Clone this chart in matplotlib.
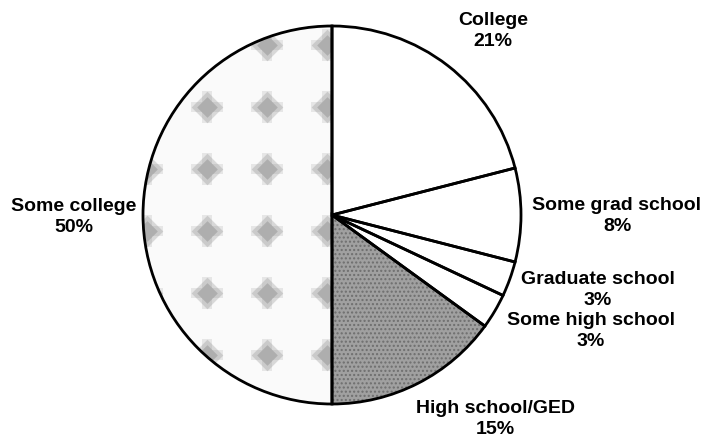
import numpy as np
import matplotlib.pyplot as plt

plt.rcParams['font.family'] = ['Liberation Sans', 'DejaVu Sans']

labels = ['College', 'Some grad school', 'Graduate school', 'Some high school',
          'High school/GED', 'Some college']
shares = [21, 8, 3, 3, 15, 50]

# fills roughly like the scanned print
fills = ['white', 'white', 'white', 'white', '#a0a0a0', '#fafafa']
hatch_cols = ['white', 'white', 'white', 'white', '#6e6e6e', '#fafafa']
hatches = [None, None, None, None, '....', None]

# label centres in pixels from the top-left
label_pos = [(493, 31), (617, 216), (598, 290), (591, 331), (495, 419), (74, 217)]

fig = plt.figure(figsize=(7.07, 4.47), dpi=100)
ax = fig.add_axes([0, 0, 1, 1])

cx, cy, r = 332, 447 - 215, 189

# textured fill first, then the black outlines on top
wedges, _ = ax.pie(shares, startangle=90, counterclock=False, center=(cx, cy),
                   radius=r, colors=fills, frame=True,
                   wedgeprops=dict(linewidth=0))
for w, h, hc in zip(wedges, hatches, hatch_cols):
    w.set_edgecolor(hc)
    if h:
        w.set_hatch(h)

# fuzzy grey blotches on the "Some college" slice
gx, gy = np.meshgrid(np.arange(cx - 185, cx, 60), np.arange(cy - 140, cy + 200, 62))
for m, s, a in [('P', 520, 0.18), ('D', 260, 0.3), ('D', 110, 0.45)]:
    spots = ax.scatter(gx.ravel(), gy.ravel(), s=s, marker=m, c='#8c8c8c',
                       alpha=a, linewidths=0)
    spots.set_clip_path(wedges[-1])

ax.pie(shares, startangle=90, counterclock=False, center=(cx, cy), radius=r,
       colors=['none'] * len(shares), frame=True,
       wedgeprops=dict(edgecolor='black', linewidth=2))

ax.set_xlim(0, 707)
ax.set_ylim(0, 447)
ax.set_aspect('equal')
ax.axis('off')

for lab, pct, (x, y) in zip(labels, shares, label_pos):
    ax.text(x, 447 - y, f'{lab}\n{pct}%', ha='center', va='center',
            fontsize=14, fontweight='bold', linespacing=1.3)

fig.savefig('out.png', dpi=100)
